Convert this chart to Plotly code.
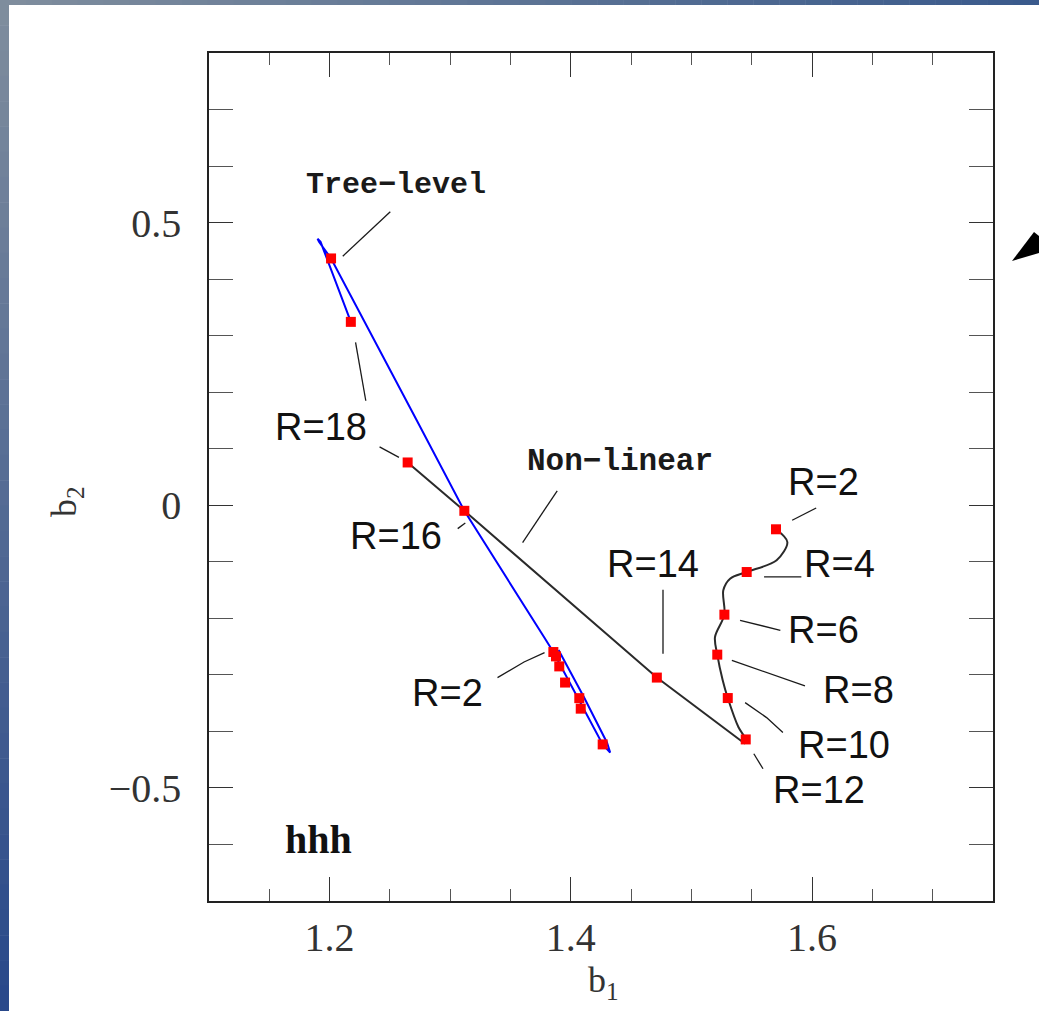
import plotly.graph_objects as go

# ---------------- data ----------------
R_vals = [2, 4, 6, 8, 10, 12, 14, 16, 18]

# Tree-level markers (b1, b2) for R = 2..18
tree_b1 = [1.3855, 1.3877, 1.3904, 1.3952, 1.4070, 1.4082, 1.4264, 1.2012, 1.2176]
tree_b2 = [-0.2596, -0.2673, -0.2850, -0.3136, -0.3412, -0.3598, -0.4230, 0.4366, 0.3244]

# Non-linear markers (b1, b2) for R = 2..18
nl_b1 = [1.5701, 1.5458, 1.5273, 1.5214, 1.5301, 1.5450, 1.4713, 1.3117, 1.2647]
nl_b2 = [-0.0425, -0.1181, -0.1935, -0.2642, -0.3410, -0.4142, -0.3048, -0.0098, 0.0757]

# Tree-level curve (blue)
tree_curve_b1 = [1.3898, 1.4110, 1.4300, 1.4326, 1.4264, 1.3855, 1.3780, 1.3117, 1.2722,
                 1.2012, 1.1912, 1.1900, 1.1925, 1.2176]
tree_curve_b2 = [-0.2560, -0.3400, -0.4200, -0.4376, -0.4230, -0.2596, -0.2340, -0.0098, 0.1504,
                 0.4366, 0.4660, 0.4715, 0.4660, 0.3244]

# Non-linear curve (black): straight part R=18 -> cusp, curved part cusp -> R=2
nl_line_b1 = [1.2647, 1.3117, 1.4713, 1.5444]
nl_line_b2 = [0.0757, -0.0098, -0.3048, -0.4218]
nl_curve_b1 = [1.5444, 1.5450, 1.5389, 1.5301, 1.5259, 1.5214, 1.5195, 1.5273, 1.5264,
               1.5320, 1.5458, 1.5706, 1.5795, 1.5701]
nl_curve_b2 = [-0.4218, -0.4142, -0.3923, -0.3410, -0.3097, -0.2642, -0.2331, -0.1935, -0.1504,
               -0.1298, -0.1181, -0.0973, -0.0650, -0.0425]

# Labels
r_labels = ["R=18", "R=16", "R=2", "R=14", "R=2", "R=4", "R=6", "R=8", "R=10", "R=12"]
curve_labels = ["Tree\u2212level", "Non\u2212linear"]
panel_label = "hhh"
x_ticks = [1.2, 1.4, 1.6]
y_ticks = [-0.5, 0, 0.5]

# ---------------- layout geometry ----------------
W, H = 1039, 1011
L, R, T, B = 209, 993, 53, 901
XR = [1.1, 1.75]
YR = [-0.7, 0.8]


def px(X):
    return (X - L) / (R - L)


def py(Y):
    return (B - Y) / (B - T)


fig = go.Figure()

# curves
fig.add_trace(go.Scatter(x=tree_curve_b1, y=tree_curve_b2, mode="lines",
                         line=dict(color="#0000ff", width=2), hoverinfo="skip"))
fig.add_trace(go.Scatter(x=nl_line_b1, y=nl_line_b2, mode="lines",
                         line=dict(color="#2a2a2a", width=2), hoverinfo="skip"))
fig.add_trace(go.Scatter(x=nl_curve_b1, y=nl_curve_b2, mode="lines",
                         line=dict(color="#2a2a2a", width=2, shape="spline", smoothing=0.9),
                         hoverinfo="skip"))

# leader lines (label pointers)
leaders = [
    [(1.2503, 0.5192), (1.2109, 0.4406)],                       # Tree-level
    [(1.2215, 0.2881), (1.2300, 0.1849)],                       # R=18 (tree)
    [(1.2414, 0.1032), (1.2575, 0.0846)],                       # R=18 (nl)
    [(1.3887, 0.0256), (1.3600, -0.0659)],                      # Non-linear
    [(1.3062, -0.0413), (1.3125, -0.0315)],                     # R=16
    [(1.3392, -0.3048), (1.3612, -0.2773), (1.3782, -0.2606)],  # R=2 tree
    [(1.4764, -0.1495), (1.4764, -0.2625)],                     # R=14
    [(1.5835, -0.0265), (1.6034, -0.0049)],                     # R=2 nl
    [(1.5602, -0.1268), (1.5911, -0.1268)],                     # R=4
    [(1.5403, -0.2035), (1.5737, -0.2212)],                     # R=6
    [(1.5335, -0.2743), (1.5941, -0.3196)],                     # R=8
    [(1.5445, -0.3491), (1.5623, -0.3756), (1.5758, -0.4021)],  # R=10
    [(1.5517, -0.4395), (1.5593, -0.4661)],                     # R=12
]
lx, ly = [], []
for seg in leaders:
    for (a, b) in seg:
        lx.append(a)
        ly.append(b)
    lx.append(None)
    ly.append(None)
fig.add_trace(go.Scatter(x=lx, y=ly, mode="lines", line=dict(color="#1a1a1a", width=1.3),
                         hoverinfo="skip", connectgaps=False))

# markers
fig.add_trace(go.Scatter(x=tree_b1, y=tree_b2, mode="markers",
                         marker=dict(symbol="square", size=10, color="#ff0000", line=dict(width=0)),
                         text=[f"R={r}" for r in R_vals], hoverinfo="text"))
fig.add_trace(go.Scatter(x=nl_b1, y=nl_b2, mode="markers",
                         marker=dict(symbol="square", size=10, color="#ff0000", line=dict(width=0)),
                         text=[f"R={r}" for r in R_vals], hoverinfo="text"))

# label positions (data coords)
r_label_pos = [(1.1927, 0.1386), (1.2554, -0.0541), (1.2977, -0.3314), (1.4679, -0.1032),
               (1.6097, 0.0403), (1.6229, -0.1032), (1.6097, -0.2212), (1.6385, -0.3265),
               (1.6267, -0.4248), (1.6055, -0.5034)]
ann = []
for txt, (ax_, ay_) in zip(r_labels, r_label_pos):
    ann.append(dict(x=ax_, y=ay_, xref="x", yref="y", text=txt, showarrow=False,
                    xanchor="center", yanchor="middle",
                    font=dict(family="Liberation Sans", size=38, color="#111111")))
ann.append(dict(x=1.2550, y=0.5664, xref="x", yref="y", text=curve_labels[0], showarrow=False,
                xanchor="center", yanchor="middle",
                font=dict(family="Liberation Mono", size=30, color="#1a1a1a", weight="bold")))
ann.append(dict(x=1.4404, y=0.0767, xref="x", yref="y", text=curve_labels[1], showarrow=False,
                xanchor="center", yanchor="middle",
                font=dict(family="Liberation Mono", size=31, color="#1a1a1a", weight="bold")))
ann.append(dict(x=1.1910, y=-0.5919, xref="x", yref="y", text=panel_label, showarrow=False,
                xanchor="center", yanchor="middle",
                font=dict(family="Liberation Serif", size=40, color="#111111", weight="bold")))
# axis titles
ann.append(dict(x=px(603), y=py(982), xref="paper", yref="paper", text="b<sub>1</sub>",
                showarrow=False, xanchor="center", yanchor="middle",
                font=dict(family="Liberation Serif", size=36, color="#333333")))
ann.append(dict(x=px(66), y=py(502), xref="paper", yref="paper", text="b<sub>2</sub>",
                showarrow=False, textangle=-90, xanchor="center", yanchor="middle",
                font=dict(family="Liberation Serif", size=36, color="#333333")))

# decorative gradient border (top band and left strip)
shapes = []
n = 40
c0 = (128, 142, 158)
c_top = (58, 90, 140)
c_left = (40, 72, 138)
for i in range(n):
    t = (i + 0.5) / n
    col = tuple(int(c0[k] + (c_top[k] - c0[k]) * t) for k in range(3))
    shapes.append(dict(type="rect", xref="paper", yref="paper",
                       x0=px(W * i / n), x1=px(W * (i + 1) / n + 0.5), y0=py(5), y1=py(0),
                       fillcolor="rgb(%d,%d,%d)" % col, line=dict(width=0), layer="above"))
    col = tuple(int(c0[k] + (c_left[k] - c0[k]) * t) for k in range(3))
    shapes.append(dict(type="rect", xref="paper", yref="paper",
                       x0=px(0), x1=px(9), y0=py(H * (i + 1) / n + 0.5), y1=py(H * i / n),
                       fillcolor="rgb(%d,%d,%d)" % col, line=dict(width=0), layer="above"))
# black arrowhead at the right edge
tri = [(1012, 261), (1034, 232), (1039, 236), (1039, 253)]
path = "M " + " L ".join("%f,%f" % (px(a), py(b)) for a, b in tri) + " Z"
shapes.append(dict(type="path", xref="paper", yref="paper", path=path,
                   fillcolor="black", line=dict(width=0)))

fig.update_layout(
    width=W, height=H,
    margin=dict(l=L, r=W - R, t=T, b=H - B),
    paper_bgcolor="white", plot_bgcolor="white",
    showlegend=False,
    annotations=ann, shapes=shapes,
    xaxis=dict(range=XR, tickmode="array", tickvals=x_ticks,
               ticktext=[f"{v:.1f}" for v in x_ticks],
               ticks="inside", ticklen=24, tickwidth=1.3, tickcolor="#333333",
               showline=True, linecolor="#222222", linewidth=1.6, mirror="allticks",
               showgrid=False, zeroline=False, ticklabelstandoff=0,
               tickfont=dict(family="Liberation Serif", size=40, color="#333333"),
               minor=dict(tickmode="linear", tick0=1.1, dtick=0.05, ticks="inside", ticklen=12,
                          tickwidth=1.2, tickcolor="#555555", showgrid=False)),
    yaxis=dict(range=YR, tickmode="array", tickvals=y_ticks,
               ticktext=["\u22120.5", "0", "0.5"],
               ticks="inside", ticklen=24, tickwidth=1.3, tickcolor="#333333",
               showline=True, linecolor="#222222", linewidth=1.6, mirror="allticks",
               showgrid=False, zeroline=False, ticklabelstandoff=18,
               tickfont=dict(family="Liberation Serif", size=40, color="#333333"),
               minor=dict(tickmode="linear", tick0=0, dtick=0.1, ticks="inside", ticklen=24,
                          tickwidth=1.2, tickcolor="#555555", showgrid=False)),
)

fig.write_html("out.html", config={"displayModeBar": False},
               post_script="document.body.style.margin='0';document.body.style.overflow='hidden';")
